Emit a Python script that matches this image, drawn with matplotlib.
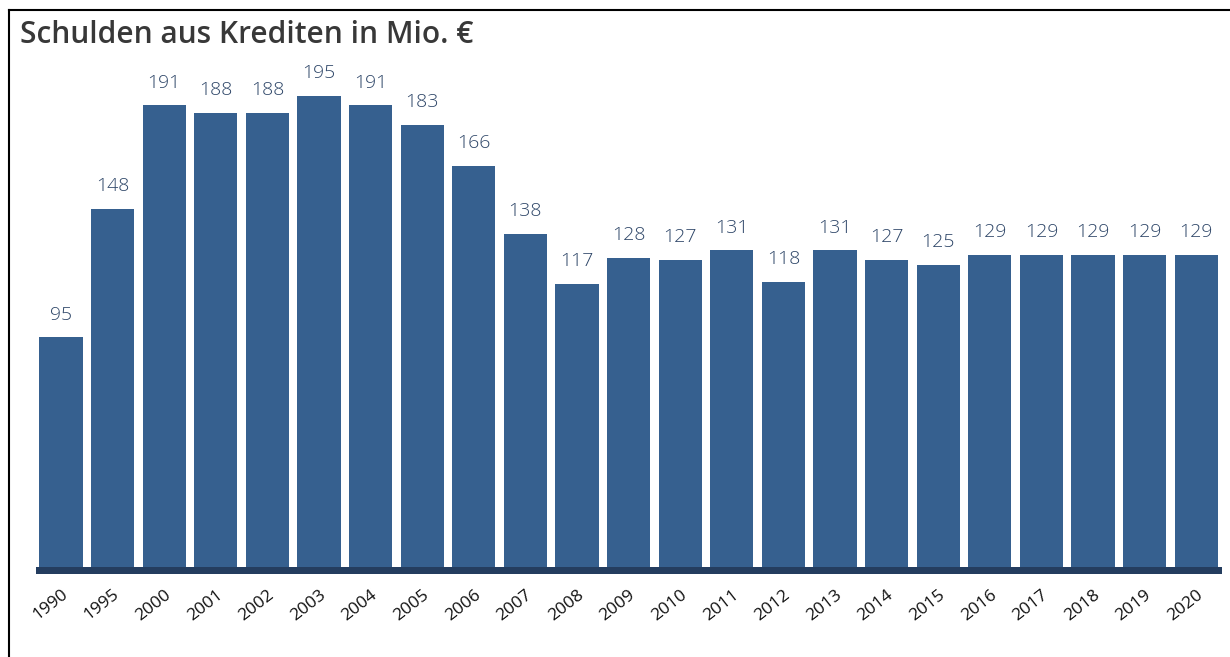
import matplotlib
matplotlib.use("Agg")
import matplotlib.pyplot as plt
from matplotlib.lines import Line2D

years = ["1990", "1995", "2000", "2001", "2002", "2003", "2004", "2005", "2006", "2007",
         "2008", "2009", "2010", "2011", "2012", "2013", "2014", "2015", "2016", "2017",
         "2018", "2019", "2020"]
values = [95, 148, 191, 188, 188, 195, 191, 183, 166, 138, 117, 128, 127, 131, 118, 131,
          127, 125, 129, 129, 129, 129, 129]
title = "Schulden aus Krediten in Mio. €"

W, H = 1230, 657
fig = plt.figure(figsize=(W / 100, H / 100), dpi=100)
fig.patch.set_facecolor("white")

ax = fig.add_axes([36 / W, 1 - 574 / H, 1186 / W, 514 / H])
x = list(range(len(years)))
ax.bar(x, values, width=0.84, color="#36608f", zorder=2)
ax.axhspan(-2.9, 0, color="#243d5f", zorder=3, lw=0)
ax.set_xlim(-0.485, len(years) - 0.5)
ax.set_ylim(-2.9, 209.8)

for xi, v in zip(x, values):
    ax.annotate(str(v), (xi, v), xytext=(0, 10), textcoords="offset points",
                ha="center", va="bottom", fontsize=14, color="#2e4668",
                family="Open Sans", fontweight="light")

ax.set_xticks(x)
ax.set_xticklabels(years, rotation=38, ha="right", rotation_mode="anchor",
                   fontsize=12.5, family="Open Sans", color="#111111")
ax.tick_params(axis="x", length=0, pad=9)
ax.set_yticks([])
for s in ax.spines.values():
    s.set_visible(False)

fig.text(20 / W, 1 - 43 / H, title, fontsize=21.5, family="Open Sans",
         color="#383838", ha="left", va="baseline", fontweight="semibold")

# frame lines (top and left)
fig.add_artist(Line2D([9 / W, 1], [1 - 10 / H, 1 - 10 / H], color="black", lw=1.5,
                      transform=fig.transFigure))
fig.add_artist(Line2D([9 / W, 9 / W], [0, 1 - 10 / H], color="black", lw=1.5,
                      transform=fig.transFigure))

fig.savefig("out.png", dpi=100)
